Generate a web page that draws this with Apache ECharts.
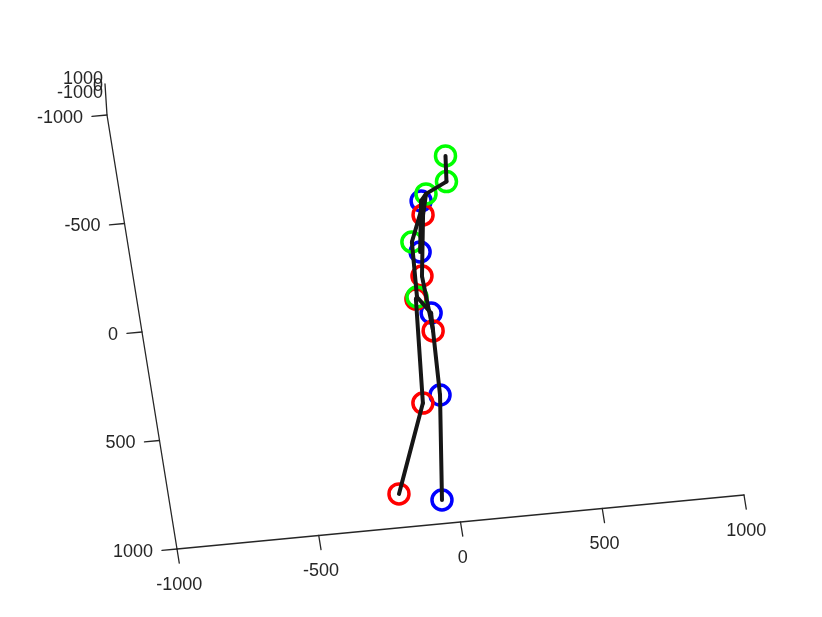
<!DOCTYPE html>
<html>
<head>
<meta charset="utf-8">
<script src="https://cdn.jsdelivr.net/npm/echarts@6/dist/echarts.min.js"></script>
<style>
html,body{margin:0;padding:0;background:#fff;}
#chart{width:822px;height:617px;}
</style>
</head>
<body>
<div id="chart"></div>
<script>
// ---- data (axis units) ----
const jointNames = ['headTop','head','neck','spine','hipCenter',
  'lShoulder','lElbow','lHip','lKnee','lFoot',
  'rShoulder','rElbow','rHip','rHand','rKnee','rFoot'];
const jointU = [153, 142, 64, -12, -25,   43, 11, 15, 0, -52,   42, 4, -30, 12, -64, -198];
const jointV = [-668, -551, -504, -292, -40,   -474, -243, 39, 415, 892,   -410, -133, -31, 121, 444, 846];
const jointSide = ['c','c','c','c','c','l','l','l','l','l','r','r','r','r','r','r'];
const edges = [[0,1],[1,2],[2,3],[3,4],[2,5],[5,6],[2,10],[10,11],[11,13],[4,12],[12,14],[14,15],[4,7],[7,8],[8,9]];
const uTicks = [-1000, -500, 0, 500, 1000];
const vTicks = [-1000, -500, 0, 500, 1000];
const zTicks = [-1000, 0, 1000];

// ---- projection of the tilted 3-D view onto the page plane ----
const P0 = [425.5, 305];
const EU = [0.2835, -0.027];
const EV = [0.035, 0.217];
const EZ = [-0.001, -0.0155];
function proj(u, v, z) {
  z = z || 0;
  return [P0[0] + u*EU[0] + v*EV[0] + z*EZ[0], P0[1] + u*EU[1] + v*EV[1] + z*EZ[1]];
}
const uMin = -1000, uMax = 1000, vMin = -1000, vMax = 1000;

const axisColor = '#262626';
const series = [];
function seg(points, color, width, z) {
  series.push({type:'line', data: points, symbol:'none', silent:true, animation:false,
    lineStyle:{color: color, width: width, cap:'round', join:'round', opacity:1}, z: z});
}
// axis lines
seg([proj(uMin, vMax), proj(uMax, vMax)], axisColor, 1.3, 1);
seg([proj(uMin, vMax), proj(uMin, vMin), proj(uMin, vMin, 2000)], axisColor, 1.3, 1);
// ticks
uTicks.forEach(t => seg([proj(t, vMax), proj(t, vMax + 65)], axisColor, 1.3, 1));
vTicks.forEach(t => seg([proj(uMin, t), proj(uMin - 53, t)], axisColor, 1.3, 1));

// joints
const colors = {l:'#0000ff', r:'#ff0000', c:'#00ff00'};
['l','r','c'].forEach((s, k) => {
  const pts = [];
  jointNames.forEach((n, i) => { if (jointSide[i] === s) pts.push({name:n, value: proj(jointU[i], jointV[i])}); });
  series.push({type:'scatter', data: pts, symbol:'circle', symbolSize: 20, silent:true, animation:false,
    itemStyle:{color:'rgba(0,0,0,0)', borderColor: colors[s], borderWidth: 3.5, opacity: 1}, z: 2 + k});
});
// bones
edges.forEach(e => seg([proj(jointU[e[0]], jointV[e[0]]), proj(jointU[e[1]], jointV[e[1]])], '#161616', 4, 10));

const chart = echarts.init(document.getElementById('chart'), null, {renderer:'canvas'});
chart.setOption({
  animation:false,
  grid:{left:0, right:0, top:0, bottom:0},
  xAxis:{type:'value', min:0, max:822, show:false},
  yAxis:{type:'value', min:0, max:617, inverse:true, show:false},
  series: series
});

// tick labels
const font = '18px "Liberation Sans", Arial, sans-serif';
const gfx = [];
function px(p) { return chart.convertToPixel({gridIndex:0}, p); }
uTicks.forEach(t => {
  const p = px(proj(t, vMax));
  gfx.push({type:'text', x: p[0] + 2.3, y: p[1] + 36, silent:true,
    style:{text: String(t), fill: axisColor, font: font, textAlign:'center', textVerticalAlign:'middle'}});
});
vTicks.forEach(t => {
  const p = px(proj(uMin, t));
  gfx.push({type:'text', x: p[0] - 24, y: p[1] + 3, silent:true,
    style:{text: String(t), fill: axisColor, font: font, textAlign:'right', textVerticalAlign:'middle'}});
});
const zTop = px(proj(uMin, vMin, 2000));
zTicks.forEach((t, i) => {
  gfx.push({type:'text', x: zTop[0] - 2, y: zTop[1] + 9 - i*7, silent:true,
    style:{text: String(t), fill: axisColor, font: font, textAlign:'right', textVerticalAlign:'middle'}});
});
chart.setOption({graphic: gfx});
</script>
</body>
</html>
